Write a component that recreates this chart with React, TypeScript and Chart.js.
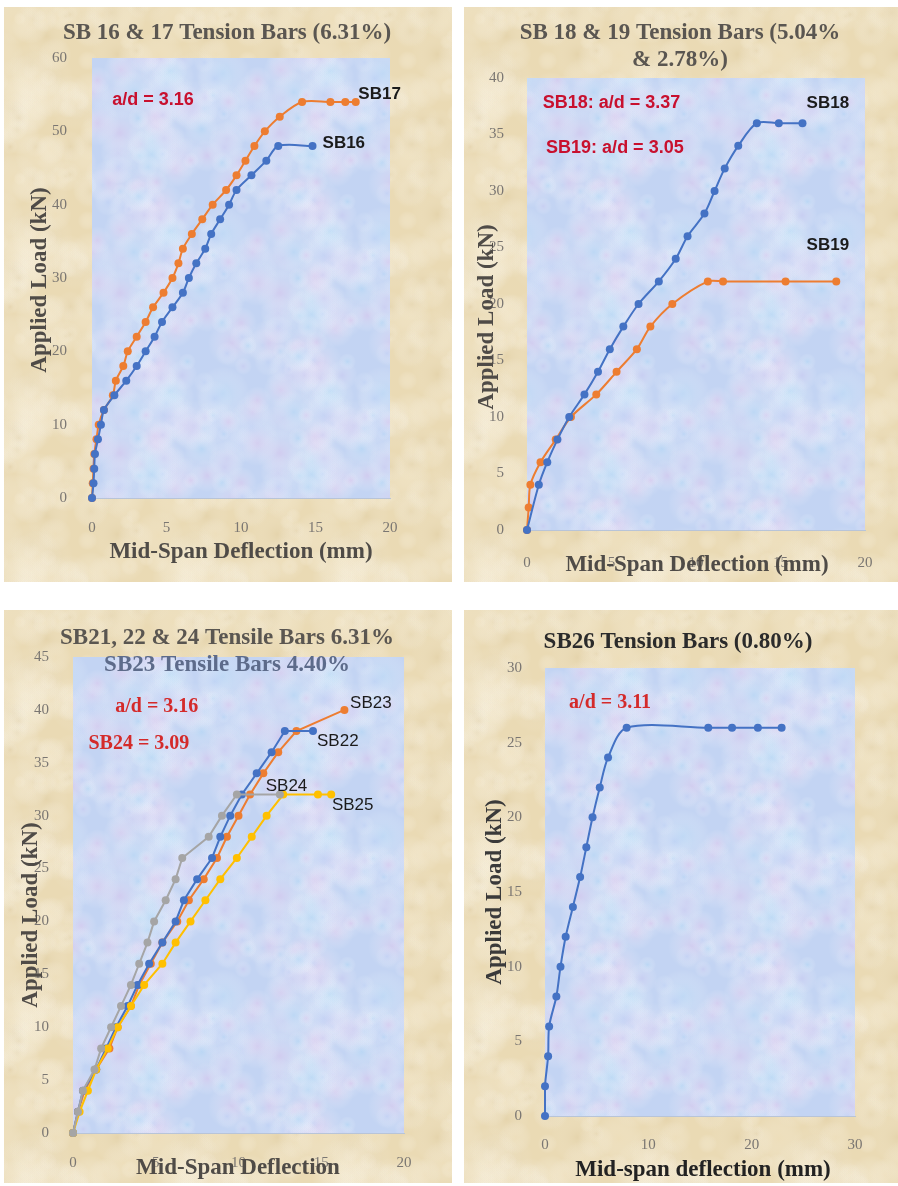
import React, { useEffect, useRef } from "react";
import { Chart, registerables } from "chart.js";

Chart.register(...registerables);

// ---------- Panel 1: SB 16 & 17 ----------
const sb16X = [0, 0.1, 0.15, 0.2, 0.4, 0.6, 0.8, 1.5, 2.3, 3.0, 3.6, 4.2, 4.7, 5.4, 6.1, 6.5, 7.0, 7.6, 8.0, 8.6, 9.2, 9.7, 10.7, 11.7, 12.5, 14.8];
const sb16Y = [0, 2, 4, 6, 8, 10, 12, 14, 16, 18, 20, 22, 24, 26, 28, 30, 32, 34, 36, 38, 40, 42, 44, 46, 48, 48];
const sb17X = [0, 0.05, 0.1, 0.15, 0.3, 0.45, 0.8, 1.4, 1.6, 2.1, 2.4, 3.0, 3.6, 4.1, 4.8, 5.4, 5.8, 6.1, 6.7, 7.4, 8.1, 9.0, 9.7, 10.3, 10.9, 11.6, 12.6, 14.1, 16.0, 17.0, 17.7];
const sb17Y = [0, 2, 4, 6, 8, 10, 12, 14, 16, 18, 20, 22, 24, 26, 28, 30, 32, 34, 36, 38, 40, 42, 44, 46, 48, 50, 52, 54, 54, 54, 54];
const p1XTicks = [0, 20, 5];
const p1YTicks = [0, 60, 10];

// ---------- Panel 2: SB 18 & 19 ----------
const sb18X = [0, 0.7, 1.2, 1.8, 2.5, 3.4, 4.2, 4.9, 5.7, 6.6, 7.8, 8.8, 9.5, 10.5, 11.1, 11.7, 12.5, 13.6, 14.9, 16.3];
const sb18Y = [0, 4, 6, 8, 10, 12, 14, 16, 18, 20, 22, 24, 26, 28, 30, 32, 34, 36, 36, 36];
const sb19X = [0, 0.1, 0.2, 0.8, 1.7, 2.6, 4.1, 5.3, 6.5, 7.3, 8.6, 10.7, 11.6, 15.3, 18.3];
const sb19Y = [0, 2, 4, 6, 8, 10, 12, 14, 16, 18, 20, 22, 22, 22, 22];
const p2XTicks = [0, 20, 5];
const p2YTicks = [0, 40, 5];

// ---------- Panel 3: SB21-25 ----------
const sb22X = [0, 0.3, 0.6, 1.4, 2.0, 2.6, 3.3, 3.9, 4.6, 5.4, 6.2, 6.7, 7.5, 8.4, 8.9, 9.5, 10.2, 11.1, 12.0, 12.8, 14.5];
const sb22Y = [0, 2, 4, 6, 8, 10, 12, 14, 16, 18, 20, 22, 24, 26, 28, 30, 32, 34, 36, 38, 38];
const sb23X = [0, 0.3, 0.7, 1.4, 2.2, 2.7, 3.5, 4.0, 4.7, 5.4, 6.3, 7.0, 7.9, 8.7, 9.3, 10.0, 10.7, 11.5, 12.4, 13.5, 16.4];
const sb23Y = [0, 2, 4, 6, 8, 10, 12, 14, 16, 18, 20, 22, 24, 26, 28, 30, 32, 34, 36, 38, 40];
const sb24X = [0, 0.3, 0.6, 1.3, 1.7, 2.3, 2.9, 3.5, 4.0, 4.5, 4.9, 5.6, 6.2, 6.6, 8.2, 9.0, 9.9, 12.5];
const sb24Y = [0, 2, 4, 6, 8, 10, 12, 14, 16, 18, 20, 22, 24, 26, 28, 30, 32, 32];
const sb25X = [0, 0.4, 0.9, 1.4, 2.1, 2.7, 3.5, 4.3, 5.4, 6.2, 7.1, 8.0, 8.9, 9.9, 10.8, 11.7, 12.7, 14.8, 15.6];
const sb25Y = [0, 2, 4, 6, 8, 10, 12, 14, 16, 18, 20, 22, 24, 26, 28, 30, 32, 32, 32];
const p3XTicks = [0, 20, 5];
const p3YTicks = [0, 45, 5];

// ---------- Panel 4: SB26 ----------
const sb26X = [0, 0, 0.3, 0.4, 1.1, 1.5, 2.0, 2.7, 3.4, 4.0, 4.6, 5.3, 6.1, 7.9, 15.8, 18.1, 20.6, 22.9];
const sb26Y = [0, 2, 4, 6, 8, 10, 12, 14, 16, 18, 20, 22, 24, 26, 26, 26, 26, 26];
const p4XTicks = [0, 30, 10];
const p4YTicks = [0, 30, 5];

const BLUE = "#4472C4";
const ORANGE = "#ED7D31";
const GRAY = "#A5A5A5";
const YELLOW = "#FFC000";
const RED = "#C8102E";

const SERIF = "'Liberation Serif', 'Times New Roman', serif";
const SANS = "'Liberation Sans', Arial, sans-serif";

type Series = { xs: number[]; ys: number[]; color: string; label: string };
type Txt = {
  text: string;
  x: number;
  y: number;
  font: string;
  color: string;
  rotate?: boolean;
  data?: boolean;
};
type PanelCfg = {
  frame: { left: number; top: number; width: number; height: number };
  pad: { left: number; right: number; top: number; bottom: number };
  yW: number;
  xH: number;
  xTicks: number[];
  yTicks: number[];
  xPad: number;
  yPad: number;
  series: Series[];
  texts: Txt[];
  tension: number;
};

const titleFont = `bold 23px ${SERIF}`;
const axisFont = `bold 23px ${SERIF}`;

const panels: PanelCfg[] = [
  {
    frame: { left: 4, top: 7, width: 448, height: 575 },
    pad: { left: 48, right: 62, top: 51, bottom: 39 },
    yW: 40,
    xH: 45,
    xTicks: p1XTicks,
    yTicks: p1YTicks,
    xPad: 13,
    yPad: 17,
    tension: 0.3,
    series: [
      { xs: sb16X, ys: sb16Y, color: BLUE, label: "SB16" },
      { xs: sb17X, ys: sb17Y, color: ORANGE, label: "SB17" },
    ],
    texts: [
      { text: "SB 16 & 17 Tension Bars (6.31%)", x: 223, y: 26, font: titleFont, color: "#5a5651" },
      { text: "Mid-Span Deflection (mm)", x: 237, y: 545, font: axisFont, color: "#4f4b47" },
      { text: "Applied Load (kN)", x: 36, y: 273, font: axisFont, color: "#4f4b47", rotate: true },
      { text: "a/d = 3.16", x: 4.1, y: 54.3, font: `bold 18px ${SANS}`, color: RED, data: true },
      { text: "SB17", x: 19.3, y: 55.1, font: `bold 17px ${SANS}`, color: "#1b1b1b", data: true },
      { text: "SB16", x: 16.9, y: 48.3, font: `bold 17px ${SANS}`, color: "#1b1b1b", data: true },
    ],
  },
  {
    frame: { left: 464, top: 7, width: 434, height: 575 },
    pad: { left: 23, right: 33, top: 71, bottom: 7 },
    yW: 40,
    xH: 45,
    xTicks: p2XTicks,
    yTicks: p2YTicks,
    xPad: 16,
    yPad: 15,
    tension: 0.3,
    series: [
      { xs: sb18X, ys: sb18Y, color: BLUE, label: "SB18" },
      { xs: sb19X, ys: sb19Y, color: ORANGE, label: "SB19" },
    ],
    texts: [
      { text: "SB 18 & 19 Tension Bars (5.04%", x: 216, y: 26, font: titleFont, color: "#5a5651" },
      { text: "& 2.78%)", x: 216, y: 53, font: titleFont, color: "#5a5651" },
      { text: "Mid-Span Deflection (mm)", x: 233, y: 558, font: axisFont, color: "#4f4b47" },
      { text: "Applied Load (kN)", x: 23, y: 310, font: axisFont, color: "#4f4b47", rotate: true },
      { text: "SB18: a/d = 3.37", x: 5.0, y: 37.8, font: `bold 18px ${SANS}`, color: RED, data: true },
      { text: "SB19: a/d = 3.05", x: 5.2, y: 33.8, font: `bold 18px ${SANS}`, color: RED, data: true },
      { text: "SB18", x: 17.8, y: 37.8, font: `bold 17px ${SANS}`, color: "#1b1b1b", data: true },
      { text: "SB19", x: 17.8, y: 25.2, font: `bold 17px ${SANS}`, color: "#1b1b1b", data: true },
    ],
  },
  {
    frame: { left: 4, top: 610, width: 448, height: 573 },
    pad: { left: 29, right: 48, top: 47, bottom: 5 },
    yW: 40,
    xH: 45,
    xTicks: p3XTicks,
    yTicks: p3YTicks,
    xPad: 13,
    yPad: 16,
    tension: 0,
    series: [
      { xs: sb24X, ys: sb24Y, color: GRAY, label: "SB24" },
      { xs: sb25X, ys: sb25Y, color: YELLOW, label: "SB25" },
      { xs: sb22X, ys: sb22Y, color: BLUE, label: "SB22" },
      { xs: sb23X, ys: sb23Y, color: ORANGE, label: "SB23" },
    ],
    texts: [
      { text: "SB21, 22 & 24 Tensile Bars 6.31%", x: 223, y: 28, font: titleFont, color: "#5a5651" },
      { text: "SB23 Tensile Bars 4.40%", x: 223, y: 55, font: titleFont, color: "#5d6b8a" },
      { text: "Mid-Span Deflection", x: 234, y: 558, font: axisFont, color: "#4f4b47" },
      { text: "Applied Load (kN)", x: 27, y: 305, font: axisFont, color: "#4f4b47", rotate: true },
      { text: "a/d = 3.16", x: 5.06, y: 40.3, font: `bold 20px ${SERIF}`, color: "#D42A2A", data: true },
      { text: "SB24 = 3.09", x: 3.98, y: 36.8, font: `bold 20px ${SERIF}`, color: "#D42A2A", data: true },
      { text: "SB23", x: 18.0, y: 40.6, font: `17px ${SANS}`, color: "#1b1b1b", data: true },
      { text: "SB22", x: 16.0, y: 37.0, font: `17px ${SANS}`, color: "#1b1b1b", data: true },
      { text: "SB24", x: 12.9, y: 32.8, font: `17px ${SANS}`, color: "#1b1b1b", data: true },
      { text: "SB25", x: 16.9, y: 31.0, font: `17px ${SANS}`, color: "#1b1b1b", data: true },
    ],
  },
  {
    frame: { left: 464, top: 610, width: 434, height: 573 },
    pad: { left: 41, right: 43, top: 58, bottom: 22 },
    yW: 40,
    xH: 45,
    xTicks: p4XTicks,
    yTicks: p4YTicks,
    xPad: 12,
    yPad: 15,
    tension: 0.3,
    series: [{ xs: sb26X, ys: sb26Y, color: BLUE, label: "SB26" }],
    texts: [
      { text: "SB26 Tension Bars (0.80%)", x: 214, y: 32, font: titleFont, color: "#2b2b2b" },
      { text: "Mid-span deflection (mm)", x: 239, y: 560, font: axisFont, color: "#222222" },
      { text: "Applied Load (kN)", x: 31, y: 282, font: axisFont, color: "#3a3a3a", rotate: true },
      { text: "a/d = 3.11", x: 6.3, y: 27.7, font: `bold 20px ${SERIF}`, color: "#D42A2A", data: true },
    ],
  },
];

// deterministic hash for a decorative mottled texture (not data)
function hash(n: number) {
  const s = Math.sin(n * 127.1 + 311.7) * 43758.5453;
  return s - Math.floor(s);
}

function makeTexture(base: string, spots: string[], size: number, count: number, seed: number) {
  const c = document.createElement("canvas");
  c.width = size;
  c.height = size;
  const g = c.getContext("2d")!;
  g.fillStyle = base;
  g.fillRect(0, 0, size, size);
  for (let i = 0; i < count; i++) {
    const x = hash(seed + i * 3.1) * size;
    const y = hash(seed + i * 7.7 + 1) * size;
    const r = 6 + hash(seed + i * 5.3 + 2) * 22;
    const col = spots[i % spots.length];
    for (const dx of [-size, 0, size]) {
      for (const dy of [-size, 0, size]) {
        const rg = g.createRadialGradient(x + dx, y + dy, 0, x + dx, y + dy, r);
        rg.addColorStop(0, col);
        rg.addColorStop(1, "rgba(255,255,255,0)");
        g.fillStyle = rg;
        g.fillRect(x + dx - r, y + dy - r, 2 * r, 2 * r);
      }
    }
  }
  return c;
}

let frameTex: HTMLCanvasElement | null = null;
let plotTex: HTMLCanvasElement | null = null;

function Panel({ cfg }: { cfg: PanelCfg }) {
  const ref = useRef<HTMLCanvasElement | null>(null);
  useEffect(() => {
    if (!ref.current) return;
    if (!frameTex) {
      frameTex = makeTexture(
        "#EADAB4",
        ["rgba(246,236,210,0.4)", "rgba(215,195,150,0.25)", "rgba(242,228,196,0.4)"],
        160,
        70,
        1
      );
    }
    if (!plotTex) {
      plotTex = makeTexture(
        "#C3D4F3",
        ["rgba(225,195,235,0.45)", "rgba(175,215,245,0.5)", "rgba(205,200,240,0.45)", "rgba(185,205,245,0.4)"],
        160,
        80,
        9
      );
    }
    const decor = {
      id: "decor",
      beforeDraw(chart: any) {
        const { ctx, chartArea: a, width, height } = chart;
        ctx.save();
        ctx.fillStyle = ctx.createPattern(frameTex!, "repeat");
        ctx.fillRect(0, 0, width, height);
        ctx.fillStyle = ctx.createPattern(plotTex!, "repeat");
        ctx.fillRect(a.left, a.top, a.right - a.left, a.bottom - a.top);
        ctx.restore();
      },
      afterDraw(chart: any) {
        const { ctx } = chart;
        const xs = chart.scales.x;
        const ys = chart.scales.y;
        ctx.save();
        ctx.textAlign = "center";
        ctx.textBaseline = "middle";
        for (const t of cfg.texts) {
          ctx.font = t.font;
          ctx.fillStyle = t.color;
          let px = t.x;
          let py = t.y;
          if (t.data) {
            px = xs.getPixelForValue(t.x);
            py = ys.getPixelForValue(t.y);
          }
          if (t.rotate) {
            ctx.save();
            ctx.translate(px, py);
            ctx.rotate(-Math.PI / 2);
            ctx.fillText(t.text, 0, 0);
            ctx.restore();
          } else {
            ctx.fillText(t.text, px, py);
          }
        }
        ctx.restore();
      },
    };
    const chart = new Chart(ref.current, {
      type: "line",
      data: {
        datasets: cfg.series.map((s) => ({
          label: s.label,
          data: s.xs.map((x, i) => ({ x, y: s.ys[i] })),
          borderColor: s.color,
          backgroundColor: s.color,
          pointBackgroundColor: s.color,
          pointBorderColor: s.color,
          pointRadius: 4,
          pointBorderWidth: 0,
          borderWidth: 2,
          tension: cfg.tension,
          fill: false,
          clip: false as any,
        })),
      },
      options: {
        animation: false,
        responsive: false,
        events: [],
        layout: { padding: cfg.pad },
        plugins: {
          legend: { display: false },
          title: { display: false },
          tooltip: { enabled: false },
        },
        scales: {
          x: {
            type: "linear",
            min: cfg.xTicks[0],
            max: cfg.xTicks[1],
            grid: { display: false },
            border: { display: true, color: "#B8C4D8", width: 1 },
            afterFit: (s: any) => {
              s.height = cfg.xH;
            },
            ticks: {
              stepSize: cfg.xTicks[2],
              autoSkip: false,
              maxRotation: 0,
              padding: cfg.xPad,
              color: "#7a7672",
              font: { family: SERIF, size: 15 },
            },
          },
          y: {
            type: "linear",
            min: cfg.yTicks[0],
            max: cfg.yTicks[1],
            grid: { display: false },
            border: { display: false },
            afterFit: (s: any) => {
              s.width = cfg.yW;
            },
            ticks: {
              stepSize: cfg.yTicks[2],
              autoSkip: false,
              padding: cfg.yPad,
              color: "#7a7672",
              font: { family: SERIF, size: 15 },
            },
          },
        },
      },
      plugins: [decor],
    });
    return () => chart.destroy();
  }, [cfg]);
  const f = cfg.frame;
  return (
    <canvas
      ref={ref}
      width={f.width}
      height={f.height}
      style={{ position: "absolute", left: f.left, top: f.top, width: f.width, height: f.height }}
    />
  );
}

export default function App() {
  return (
    <div style={{ position: "absolute", left: 0, top: 0, width: 898, height: 1186, background: "#ffffff", overflow: "hidden" }}>
      {panels.map((p, i) => (
        <Panel key={i} cfg={p} />
      ))}
    </div>
  );
}
